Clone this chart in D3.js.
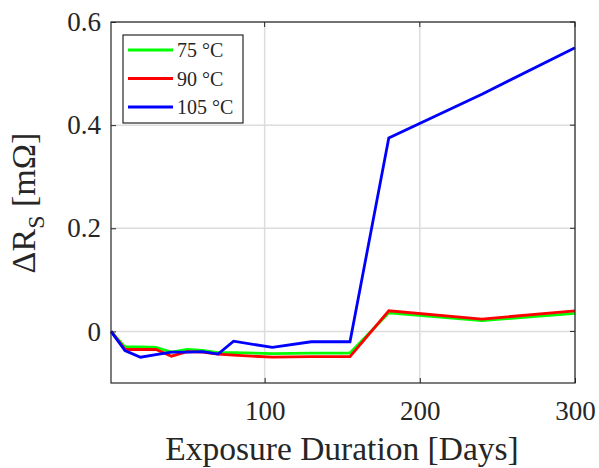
<!DOCTYPE html>
<html>
<head>
<meta charset="utf-8">
<script src="https://cdn.jsdelivr.net/npm/d3@7"></script>
<style>
  html, body { margin: 0; padding: 0; background: #fff; }
  svg { display: block; }
  svg text { font-family: "Liberation Serif", "DejaVu Serif", Times, serif; fill: #262626; }
</style>
</head>
<body>
<svg id="chart" width="599" height="468"></svg>
<script>
// Exposure days and resistance change (mΩ) for each ageing temperature
const days = [1, 10, 20, 30, 40, 50, 60, 70, 80, 105, 130, 155, 180, 240, 300];
const dR75  = [0, -0.030, -0.030, -0.031, -0.040, -0.035, -0.037, -0.041, -0.041, -0.043, -0.042, -0.042, 0.036, 0.021, 0.035];
const dR90  = [0, -0.035, -0.035, -0.035, -0.048, -0.039, -0.040, -0.044, -0.046, -0.050, -0.049, -0.049, 0.040, 0.024, 0.040];
const dR105 = [0, -0.037, -0.050, -0.045, -0.040, -0.040, -0.039, -0.044, -0.019, -0.031, -0.020, -0.020, 0.375, 0.460, 0.550];
const seriesNames = ["75 °C", "90 °C", "105 °C"];
const seriesColors = ["#00ff00", "#ff0000", "#0000ff"];
const xTicks = [100, 200, 300];
const yTicks = [0, 0.2, 0.4, 0.6];

const serif = "Liberation Serif";

const series = [dR75, dR90, dR105].map((vals, i) => ({
  name: seriesNames[i],
  color: seriesColors[i],
  points: days.map((d, j) => ({ d, v: vals[j] }))
}));

const svg = d3.select("#chart");
const plot = { left: 111, right: 575, top: 22, bottom: 383 };

const x = d3.scaleLinear().domain([1, 300]).range([plot.left, plot.right]);
const y = d3.scaleLinear().domain([-0.1, 0.6]).range([plot.bottom, plot.top]);

// Grid lines
const grid = svg.append("g");
grid.selectAll("line.gx").data(xTicks).join("line")
  .attr("x1", d => x(d)).attr("x2", d => x(d))
  .attr("y1", plot.top).attr("y2", plot.bottom)
  .attr("stroke", "#dcdcdc").attr("stroke-width", 1.5);
grid.selectAll("line.gy").data(yTicks).join("line")
  .attr("x1", plot.left).attr("x2", plot.right)
  .attr("y1", d => y(d)).attr("y2", d => y(d))
  .attr("stroke", "#dcdcdc").attr("stroke-width", 1.5);

// Data lines
const line = d3.line().x(p => x(p.d)).y(p => y(p.v));
svg.append("g").selectAll("path").data(series).join("path")
  .attr("d", s => line(s.points))
  .attr("fill", "none")
  .attr("stroke", s => s.color)
  .attr("stroke-width", 2.8)
  .attr("stroke-linejoin", "miter");

// Axes with inward ticks
const tickFont = "27px";
const xAxis = svg.append("g").attr("transform", `translate(0,${plot.bottom})`)
  .call(d3.axisBottom(x).tickValues(xTicks).tickSize(-5).tickPadding(18).tickFormat(d3.format("d")));
const yAxis = svg.append("g").attr("transform", `translate(${plot.left},0)`)
  .call(d3.axisLeft(y).tickValues(yTicks).tickSize(-5).tickPadding(10).tickFormat(d => d === 0 ? "0" : d3.format(".1f")(d)));
[xAxis, yAxis].forEach(a => {
  a.attr("font-family", serif).attr("font-size", tickFont);
  a.select(".domain").remove();
  a.selectAll(".tick line").attr("stroke", "#262626");
  a.selectAll(".tick text").attr("font-family", serif).style("font-size", tickFont).attr("fill", "#262626");
});

// Ticks on the top and right edges
svg.append("g").selectAll("line").data(xTicks).join("line")
  .attr("x1", d => x(d)).attr("x2", d => x(d))
  .attr("y1", plot.top).attr("y2", plot.top + 5).attr("stroke", "#262626");
svg.append("g").selectAll("line").data(yTicks).join("line")
  .attr("x1", plot.right).attr("x2", plot.right - 5)
  .attr("y1", d => y(d)).attr("y2", d => y(d)).attr("stroke", "#262626");

// Plot box
svg.append("rect")
  .attr("x", plot.left).attr("y", plot.top)
  .attr("width", plot.right - plot.left).attr("height", plot.bottom - plot.top)
  .attr("fill", "none").attr("stroke", "#262626").attr("stroke-width", 1.2);

// Axis titles
svg.append("text")
  .attr("x", (plot.left + plot.right) / 2 - 1).attr("y", 460)
  .attr("text-anchor", "middle").attr("font-family", serif).style("font-size", "33.5px")
  .text("Exposure Duration [Days]");

const yt = svg.append("text")
  .attr("transform", `translate(35,203) rotate(-90)`)
  .attr("text-anchor", "middle").attr("font-family", serif).style("font-size", "34px");
yt.append("tspan").text("ΔR");
yt.append("tspan").attr("dy", 9).style("font-size", "24px").text("S");
yt.append("tspan").attr("dy", -9).text(" [mΩ]");

// Legend
const leg = svg.append("g");
leg.append("rect").attr("x", 123).attr("y", 35).attr("width", 120).attr("height", 88)
  .attr("fill", "#fff").attr("stroke", "#262626").attr("stroke-width", 1.2);
const rows = leg.selectAll("g.row").data(series).join("g")
  .attr("transform", (s, i) => `translate(0,${50 + i * 28.5})`);
rows.append("line").attr("x1", 128).attr("x2", 173).attr("y1", 0).attr("y2", 0)
  .attr("stroke", s => s.color).attr("stroke-width", 2.8);
rows.append("text").attr("x", 177).attr("y", 7).attr("font-family", serif)
  .style("font-size", "20px").text(s => s.name);
</script>
</body>
</html>
